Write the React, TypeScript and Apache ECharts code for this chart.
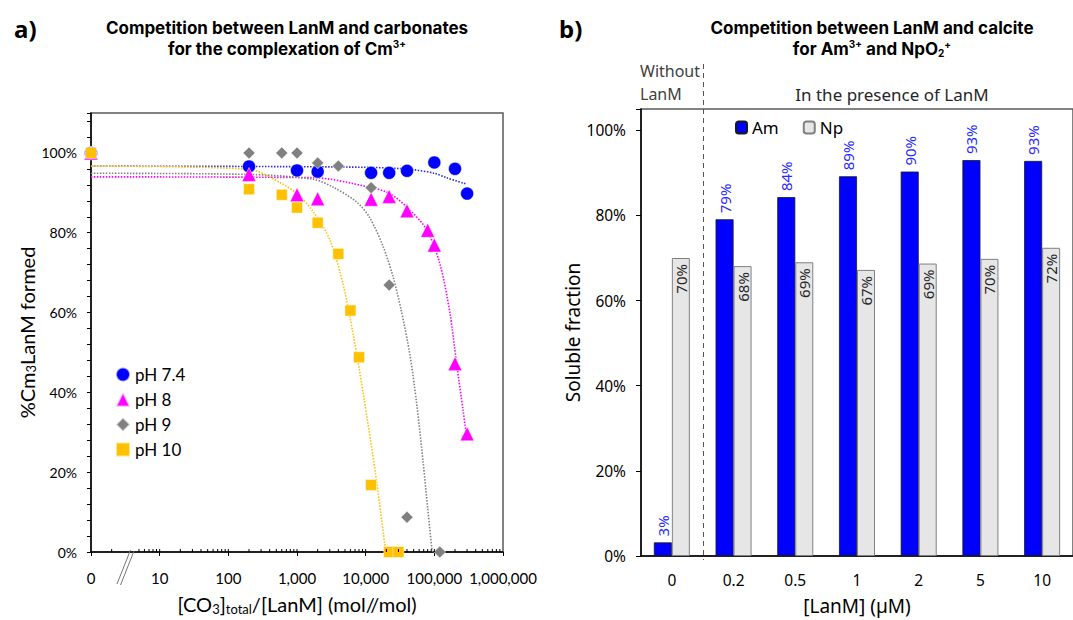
import React, { useEffect, useRef } from "react";
import * as echarts from "echarts";

// ---------- Panel a data ----------
const PH74: number[][] = [[1, 100], [200, 96.6], [1000, 95.6], [2000, 95.3], [12000, 95.0], [22000, 95.0], [40000, 95.5], [100000, 97.6], [200000, 96.0], [300000, 89.8]];
const PH8: number[][] = [[1, 100], [200, 94.6], [1000, 89.5], [2000, 88.5], [12000, 88.4], [22000, 89.1], [40000, 85.5], [80000, 80.6], [100000, 76.9], [200000, 47.2], [300000, 29.6]];
const PH9: number[][] = [[1, 100], [200, 100], [600, 100], [1000, 100], [2000, 97.5], [4000, 96.7], [12000, 91.3], [22000, 66.9], [40000, 8.7], [120000, 0]];
const PH10: number[][] = [[1, 100], [200, 90.9], [600, 89.5], [1000, 86.3], [2000, 82.5], [4000, 74.7], [6000, 60.5], [8000, 48.8], [12000, 16.8], [22000, 0], [30000, 0]];

// dotted fitted curves
const FIT74: number[][] = [[1, 96.7], [200, 96.6], [10000, 96.4], [30000, 96.1], [49000, 95.8], [100000, 94.9], [150000, 93.8], [290000, 92.2]];
const FIT8: number[][] = [[1, 94.0], [1720, 93.8], [11500, 91.4], [22500, 89.8], [41600, 86.1], [76900, 80.8], [120000, 72.3], [168000, 60.1], [210000, 47.5], [262000, 35.5], [294000, 29.2]];
const FIT9: number[][] = [[1, 94.9], [200, 94.6], [1720, 93.4], [3370, 91.4], [7380, 87.7], [11500, 83.7], [18000, 76.5], [25000, 69.0], [33000, 60.5], [44000, 49.5], [55000, 37.5], [68700, 22.5], [80000, 11.0], [93000, 0]];
const FIT10: number[][] = [[1, 96.7], [200, 95.9], [560, 92.6], [1000, 89.8], [1720, 85.3], [3000, 78.3], [4700, 67.0], [6600, 54.4], [9200, 39.8], [14400, 17.8], [19600, 0]];

// minor tick values of the log axis (3 and 4 hidden by the axis break)
const LOG_MINOR_TICKS: number[] = [
  2, 5, 6, 7, 8, 9, 10,
  20, 30, 40, 50, 60, 70, 80, 90, 100,
  200, 300, 400, 500, 600, 700, 800, 900, 1000,
  2000, 3000, 4000, 5000, 6000, 7000, 8000, 9000, 10000,
  20000, 30000, 40000, 50000, 60000, 70000, 80000, 90000, 100000,
  200000, 300000, 400000, 500000, 600000, 700000, 800000, 900000,
];

// ---------- Panel b data ----------
const LANM_CATS: string[] = ["0", "0.2", "0.5", "1", "2", "5", "10"];
const AM: number[] = [3.2, 79.1, 84.3, 89.2, 90.3, 93.0, 92.8];
const NP: number[] = [70.0, 68.1, 69.0, 67.2, 68.7, 69.8, 72.4];

const FA = "Lato";
const FB = "Noto Sans";
const FT = "Inter";

export default function App() {
  const ref = useRef<HTMLDivElement>(null);
  useEffect(() => {
    if (!ref.current) return;
    const chart = echarts.init(ref.current, null, { renderer: "svg" });

    const fitSeries = (data: number[][], color: string) => ({
      type: "line",
      xAxisIndex: 0,
      yAxisIndex: 0,
      data,
      showSymbol: false,
      smooth: 0.3,
      silent: true,
      z: 2,
      lineStyle: { color, width: 1.6, type: [1.5, 1.5] },
    });
    const scatter = (name: string, data: number[][], color: string, symbol: string, size: number) => ({
      type: "scatter",
      name,
      xAxisIndex: 0,
      yAxisIndex: 0,
      data,
      symbol,
      symbolSize: size,
      z: 3,
      itemStyle: { color, opacity: 1, borderColor: "rgba(255,255,255,0.6)", borderWidth: 0.8 },
    });

    const pct = (p: any) => Math.round(p.value) + "%";

    const option: any = {
      animation: false,
      backgroundColor: "#fff",
      title: [
        {
          text: "Competition between LanM and carbonates\nfor the complexation of Cm{sup|3+}",
          left: 282,
          top: 12,
          textAlign: "center",
          textStyle: {
            fontFamily: FT, fontSize: 17, fontWeight: "bold", color: "#000", lineHeight: 21,
            rich: { sup: { fontFamily: FT, fontSize: 10, fontWeight: "bold", color: "#000", padding: [0, 0, 9, 0] } },
          },
        },
        {
          text: "Competition between LanM and calcite\nfor Am{sup|3+} and NpO{sub|2}{sup|+}",
          left: 867,
          top: 12,
          textAlign: "center",
          textStyle: {
            fontFamily: FT, fontSize: 17, fontWeight: "bold", color: "#000", lineHeight: 21,
            rich: {
              sup: { fontFamily: FT, fontSize: 10, fontWeight: "bold", color: "#000", padding: [0, 0, 9, 0] },
              sub: { fontFamily: FT, fontSize: 10, fontWeight: "bold", color: "#000", padding: [8, 0, 0, 0] },
            },
          },
        },
        { text: "a)", left: 9, top: 11, textStyle: { fontFamily: FB, fontSize: 24, fontWeight: "bold", color: "#000" } },
        { text: "b)", left: 554, top: 11, textStyle: { fontFamily: FB, fontSize: 24, fontWeight: "bold", color: "#000" } },
      ],
      legend: [
        {
          data: ["pH 7.4", "pH 8", "pH 9", "pH 10"],
          orient: "vertical",
          left: 110,
          top: 361,
          itemWidth: 14,
          itemHeight: 14,
          itemGap: 8,
          textStyle: { fontFamily: FA, fontSize: 17, color: "#000", lineHeight: 14 },
        },
        {
          data: ["Am", "Np"],
          left: 730,
          top: 114,
          itemWidth: 11,
          itemHeight: 12,
          itemGap: 24,
          textStyle: { fontFamily: FB, fontSize: 17, color: "#000" },
        },
      ],
      grid: [
        { left: 91, top: 113, width: 412, height: 450, show: true, borderColor: "#595959", borderWidth: 1.5, backgroundColor: "transparent" },
        { left: 641, top: 109, width: 440.5, height: 454, show: true, borderColor: "#595959", borderWidth: 1.5, backgroundColor: "transparent" },
      ],
      xAxis: [
        {
          gridIndex: 0,
          type: "log",
          logBase: 10,
          min: 1,
          max: 1000000,
          axisLine: { lineStyle: { color: "#000", width: 1.5 } },
          axisTick: { length: 4, lineStyle: { color: "#000", width: 1 } },
          splitLine: { show: false },
          axisLabel: {
            margin: 18,
            fontFamily: FA,
            fontSize: 15,
            color: "#000",
            formatter: (v: number) => (Math.round(v) === 1 ? "0" : Math.round(v).toLocaleString("en-US")),
          },
          name: "[CO{sub|3}]{sub|total}/[LanM] (mol//mol)",
          nameLocation: "middle",
          nameGap: 41,
          nameTextStyle: {
            fontFamily: FA, fontSize: 20, color: "#000",
            rich: { sub: { fontFamily: FA, fontSize: 13, color: "#000", padding: [9, 0, 0, 0] } },
          },
        },
        {
          gridIndex: 1,
          type: "category",
          data: LANM_CATS,
          axisLine: { lineStyle: { color: "#000", width: 1.5 } },
          axisTick: { length: 5, lineStyle: { color: "#000" } },
          axisLabel: { margin: 16, fontFamily: FB, fontSize: 15.5, color: "#000" },
          name: "[LanM] (µM)",
          nameLocation: "middle",
          nameGap: 40,
          nameTextStyle: { fontFamily: FB, fontSize: 19, color: "#000" },
        },
      ],
      yAxis: [
        {
          gridIndex: 0,
          type: "value",
          min: 0,
          max: 110,
          interval: 4,
          axisLine: { show: true, lineStyle: { color: "#000", width: 1.5 } },
          axisTick: { show: true, length: 4, lineStyle: { color: "#000" } },
          splitLine: { show: false },
          axisLabel: {
            margin: 14, fontFamily: FA, fontSize: 14, color: "#000",
            formatter: (v: number) => (v % 20 === 0 && v <= 100 ? v + "%" : ""),
          },
          name: "%Cm{sub|3}LanM formed",
          nameLocation: "middle",
          nameGap: 47,
          nameTextStyle: {
            fontFamily: FA, fontSize: 20, color: "#000",
            rich: { sub: { fontFamily: FA, fontSize: 13, color: "#000", padding: [9, 0, 0, 0] } },
          },
        },
        {
          gridIndex: 1,
          type: "value",
          min: 0,
          max: 105,
          interval: 20,
          axisLine: { show: true, lineStyle: { color: "#000", width: 1.5 } },
          axisTick: { show: true, length: 5, lineStyle: { color: "#000" } },
          splitLine: { show: false },
          axisLabel: {
            margin: 15, fontFamily: FB, fontSize: 15.5, color: "#000",
            formatter: (v: number) => (v <= 100 ? v + "%" : ""),
          },
          name: "Soluble fraction",
          nameLocation: "middle",
          nameGap: 55,
          nameTextStyle: { fontFamily: FB, fontSize: 19, color: "#000" },
        },
      ],
      series: [
        fitSeries(FIT74, "#2a2ae8"),
        fitSeries(FIT8, "#ff00ff"),
        fitSeries(FIT9, "#808080"),
        fitSeries(FIT10, "#ffc000"),
        scatter("pH 7.4", PH74, "#0000ff", "circle", 13),
        scatter("pH 8", PH8, "#ff00ff", "triangle", 14),
        scatter("pH 9", PH9, "#808080", "diamond", 12),
        scatter("pH 10", PH10, "#ffc000", "rect", 11),
        {
          type: "custom",
          xAxisIndex: 0,
          yAxisIndex: 0,
          silent: true,
          z: 5,
          data: LOG_MINOR_TICKS.map((v) => [v, 0]),
          renderItem: (params: any, api: any) => {
            const p = api.coord([api.value(0), 0]);
            return {
              type: "line",
              shape: { x1: p[0], y1: p[1], x2: p[0], y2: p[1] - 3 },
              style: { stroke: "#000", lineWidth: 1 },
            };
          },
        },
        {
          type: "bar",
          name: "Am",
          xAxisIndex: 1,
          yAxisIndex: 1,
          data: AM,
          barWidth: 18,
          barGap: "0%",
          itemStyle: { color: "#0000ff", borderColor: "#1a1a1a", borderWidth: 0.8 },
          label: {
            show: true, position: "top", rotate: 90, align: "left", verticalAlign: "middle", distance: 6,
            fontFamily: FB, fontSize: 15, color: "#2828ff", formatter: pct,
          },
        },
        {
          type: "bar",
          name: "Np",
          xAxisIndex: 1,
          yAxisIndex: 1,
          data: NP,
          barWidth: 18,
          barGap: "0%",
          itemStyle: { color: "#e6e6e6", borderColor: "#808080", borderWidth: 1 },
          label: {
            show: true, position: "insideTop", rotate: 90, align: "right", verticalAlign: "middle", distance: 6,
            fontFamily: FB, fontSize: 15, color: "#262626", formatter: pct,
          },
        },
      ],
      graphic: [
        // axis break marks in panel a
        { type: "line", shape: { x1: 117, y1: 584, x2: 130.5, y2: 550 }, style: { stroke: "#777", lineWidth: 1 }, z: 10 },
        { type: "line", shape: { x1: 120.5, y1: 585, x2: 134, y2: 551 }, style: { stroke: "#777", lineWidth: 1 }, z: 10 },
        // dashed separator in panel b
        { type: "line", shape: { x1: 703.5, y1: 64, x2: 703.5, y2: 560 }, style: { stroke: "#555", lineWidth: 1, lineDash: [5, 4] }, z: 10 },
        { type: "text", left: 640, top: 59, style: { text: "Without\nLanM", fontFamily: FB, fontSize: 16, lineHeight: 23, fill: "#404040" } },
        { type: "text", x: 892, y: 94, style: { text: "In the presence of LanM", fontFamily: FB, fontSize: 17, fill: "#262626", textAlign: "center", textVerticalAlign: "middle" } },
      ],
    };
    chart.setOption(option);
    return () => chart.dispose();
  }, []);
  return <div ref={ref} style={{ position: "fixed", left: 0, top: 0, width: 1073, height: 620 }} />;
}
